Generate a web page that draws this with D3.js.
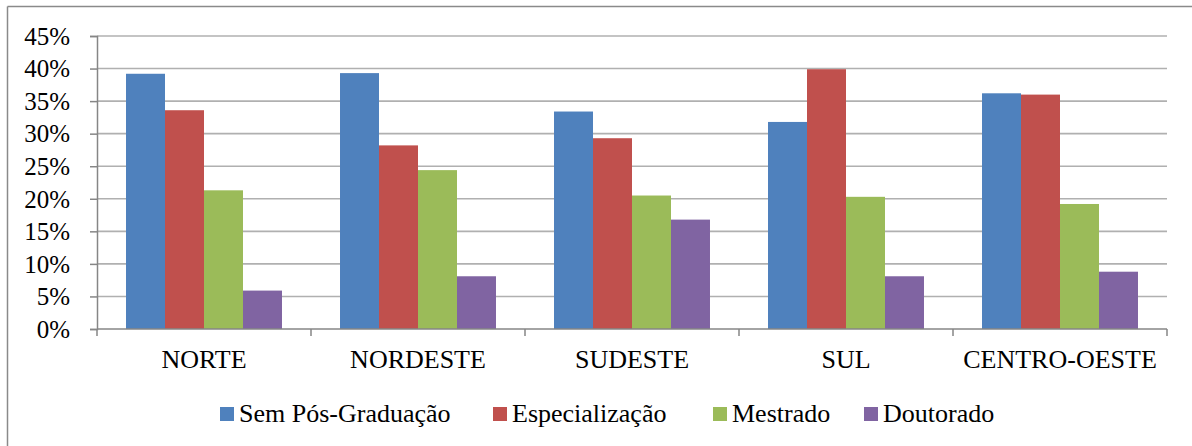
<!DOCTYPE html>
<html>
<head>
<meta charset="utf-8">
<script src="https://cdn.jsdelivr.net/npm/d3@7"></script>
<style>
  html, body { margin: 0; padding: 0; background: #fff; }
  svg { display: block; }
  svg text { font-family: "Liberation Serif", "LiberationSerif", "Liberation Serif Regular", "Tinos", "Times New Roman", Times, "Nimbus Roman", "Nimbus Roman No9 L", "FreeSerif", "Noto Serif", "DejaVu Serif", "Noto Serif CJK SC", serif !important; fill: #000; }
</style>
</head>
<body>
<svg id="chart" width="1192" height="446"></svg>
<script>
const categories = ["NORTE", "NORDESTE", "SUDESTE", "SUL", "CENTRO-OESTE"];
const seriesNames = ["Sem Pós-Graduação", "Especialização", "Mestrado", "Doutorado"];
const semPos        = [39.2, 39.3, 33.4, 31.8, 36.2];
const especializacao = [33.6, 28.2, 29.3, 39.9, 36.0];
const mestrado      = [21.3, 24.4, 20.5, 20.3, 19.2];
const doutorado     = [5.9, 8.1, 16.8, 8.1, 8.8];
const yTicks = [0, 5, 10, 15, 20, 25, 30, 35, 40, 45];
const colors = ["#4F81BD", "#C0504D", "#9BBB59", "#8064A2"];

const seriesValues = [semPos, especializacao, mestrado, doutorado];

const svg = d3.select("#chart");

// outer frame (partially visible)
svg.append("line").attr("x1", 7.5).attr("x2", 1192).attr("y1", 6.5).attr("y2", 6.5)
  .attr("stroke", "#8a8a8a").attr("stroke-width", 1.5);
svg.append("line").attr("x1", 7.5).attr("x2", 7.5).attr("y1", 6.5).attr("y2", 446)
  .attr("stroke", "#8a8a8a").attr("stroke-width", 1.5);

const plot = { left: 97, right: 1167, top: 36, bottom: 329 };

const x0 = d3.scaleBand().domain(categories).range([plot.left, plot.right]).paddingInner(0).paddingOuter(0);
const x1 = d3.scaleBand().domain(seriesNames).range([0, x0.bandwidth()]).paddingInner(0).paddingOuter(0.744);
const y = d3.scaleLinear().domain([0, 45]).range([plot.bottom, plot.top]);

// gridlines
svg.append("g").selectAll("line").data(yTicks.filter(t => t > 0)).join("line")
  .attr("x1", plot.left).attr("x2", plot.right)
  .attr("y1", d => y(d)).attr("y2", d => y(d))
  .attr("stroke", "#b0b0b0").attr("stroke-width", 1.6);

// bars
const groups = svg.append("g").selectAll("g").data(categories).join("g")
  .attr("transform", c => `translate(${x0(c)},0)`);
groups.selectAll("rect").data((c, ci) => seriesNames.map((s, si) => ({ s, si, v: seriesValues[si][ci] })))
  .join("rect")
  .attr("x", d => x1(d.s))
  .attr("width", x1.bandwidth())
  .attr("y", d => y(d.v))
  .attr("height", d => y(0) - y(d.v))
  .attr("fill", d => colors[d.si]);

// y axis
const yAxis = d3.axisLeft(y).tickValues(yTicks).tickFormat(d => d + "%").tickSize(7).tickPadding(20);
const yg = svg.append("g").attr("transform", `translate(${plot.left},0)`).call(yAxis);
yg.attr("font-family", null).attr("font-size", null);
yg.select(".domain").attr("stroke", "#868686").attr("stroke-width", 1.5);
yg.selectAll(".tick line").attr("stroke", "#868686").attr("stroke-width", 1.5);
yg.selectAll(".tick text").attr("font-size", 25).attr("fill", "#000").attr("dy", "0.33em");

// x axis
const boundaries = d3.range(categories.length + 1).map(i => plot.left + i * x0.bandwidth());
const xg = svg.append("g");
xg.append("line").attr("x1", plot.left).attr("x2", plot.right).attr("y1", plot.bottom).attr("y2", plot.bottom)
  .attr("stroke", "#868686").attr("stroke-width", 1.5);
xg.selectAll("line.tk").data(boundaries).join("line").attr("class", "tk")
  .attr("x1", d => d).attr("x2", d => d).attr("y1", plot.bottom).attr("y2", plot.bottom + 7)
  .attr("stroke", "#868686").attr("stroke-width", 1.5);
xg.selectAll("text").data(categories).join("text")
  .attr("x", c => x0(c) + x0.bandwidth() / 2)
  .attr("y", 368)
  .attr("text-anchor", "middle")
  .attr("font-size", 26)
  .text(c => c);

// legend
const legendX = [220, 493, 713, 864];
const lg = svg.append("g");
seriesNames.forEach((s, i) => {
  lg.append("rect").attr("x", legendX[i]).attr("y", 407).attr("width", 14).attr("height", 14).attr("fill", colors[i]);
  lg.append("text").attr("x", legendX[i] + 19).attr("y", 422).attr("font-size", 26).text(s);
});
</script>
</body>
</html>
